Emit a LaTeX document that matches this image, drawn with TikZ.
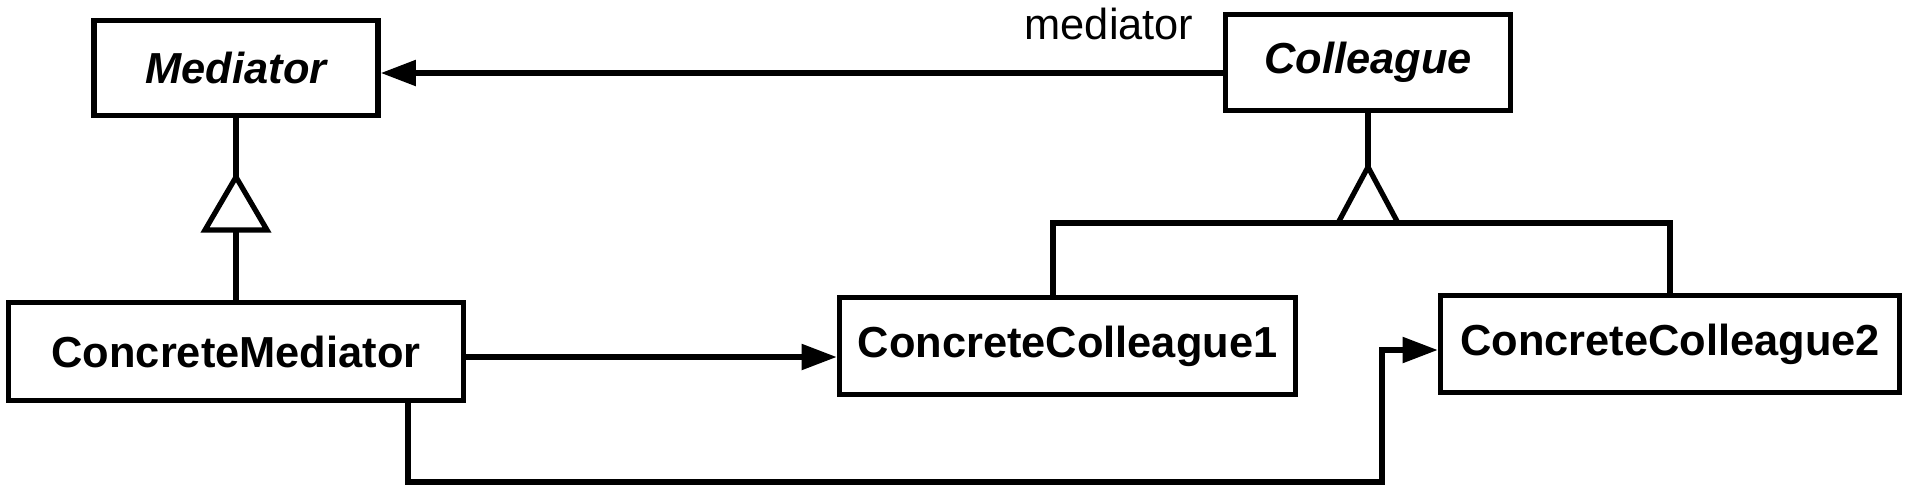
\documentclass[tikz,border=0pt]{standalone}
\usepackage{fontspec}
\setmainfont{Liberation Sans}
\usetikzlibrary{arrows.meta}
\begin{document}
\begin{tikzpicture}[x=0.5pt,y=-0.5pt,
  cls/.style={draw, line width=2.8pt, inner sep=0pt, font=\fontsize{21.7pt}{26pt}\selectfont\bfseries},
  abs/.style={cls, font=\fontsize{21.7pt}{26pt}\selectfont\bfseries\itshape},
  conn/.style={line width=2.6pt},
  nav/.style={conn, -{Triangle[length=17.5pt,width=12.5pt]}},
  tri/.style={conn, line join=miter, fill=white}]
\useasboundingbox (0,0) rectangle (1910,494);
\node[abs, minimum width=142pt, minimum height=47.5pt] (med) at (236,68) {Mediator};
\node[cls, minimum width=227.5pt, minimum height=49pt] (cmed) at (236,351.5) {ConcreteMediator};
\node[abs, minimum width=142.5pt, minimum height=48pt] (col) at (1368,62.5) {Colleague};
\node[cls, minimum width=228pt, minimum height=48.5pt] (cc1) at (1067.5,346) {ConcreteColleague1};
\node[cls, minimum width=229.5pt, minimum height=48.5pt] (cc2) at (1670,344) {ConcreteColleague2};
\node[font=\fontsize{21.7pt}{26pt}\selectfont, anchor=base, inner sep=0pt] (lbl) at (1109,39) {mediator};

% Mediator generalization
\coordinate (ma) at (236,177);
\coordinate (mb) at (236,230);
\draw[conn] (med.south) -- (ma);
\draw[tri] (ma) -- ++(-31,53) -- ++(62,0) -- cycle;
\draw[conn] (mb) -- (cmed.north);

% Colleague generalization
\coordinate (ca) at (1368,167);
\coordinate (cb) at (1368,223);
\draw[conn] (col.south) -- (ca);
\draw[tri] (ca) -- ++(-30,56) -- ++(60,0) -- cycle;
\draw[conn] (cc1.north -| 1053,0) |- (cb) -| (cc2.north);

% associations
\draw[nav] (col.west |- 0,73) -- (med.east |- 0,73);
\draw[nav] (cmed.east |- 0,357) -- (cc1.west |- 0,357);
\coordinate (bend) at (1382,482);
\draw[nav] (cmed.south -| 408,0) |- (bend) |- (cc2.west |- 0,350);
\end{tikzpicture}
\end{document}
